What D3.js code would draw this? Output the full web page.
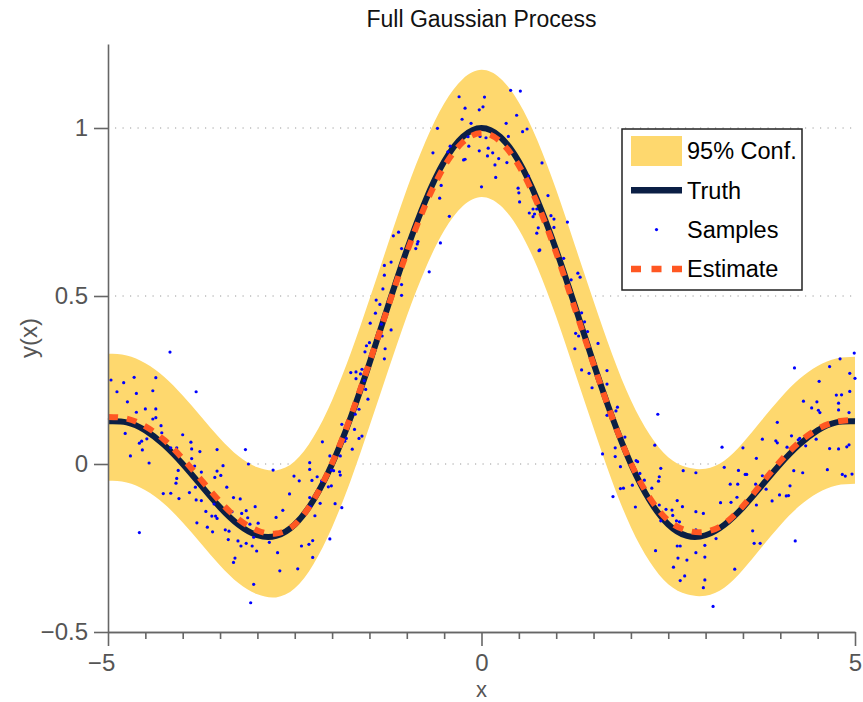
<!DOCTYPE html>
<html>
<head>
<meta charset="utf-8">
<script src="https://cdn.jsdelivr.net/npm/d3@7"></script>
<style>
  body { margin: 0; background: #fff; }
  svg { display: block; }
  text { font-family: "Liberation Sans", Arial, Helvetica, sans-serif; }
</style>
</head>
<body>
<svg id="chart" width="863" height="702"></svg>
<script>
// Evaluation grid for the curves
const xGrid = [-5, -4.75, -4.5, -4.25, -4, -3.75, -3.5, -3.25, -3, -2.75, -2.5, -2.25, -2, -1.75, -1.5, -1.25, -1, -0.75, -0.5, -0.25,
  0, 0.25, 0.5, 0.75, 1, 1.25, 1.5, 1.75, 2, 2.25, 2.5, 2.75, 3, 3.25, 3.5, 3.75, 4, 4.25, 4.5, 4.75, 5];

// True function
const truth = [0.127, 0.124, 0.100, 0.057, 0.000, -0.065, -0.129, -0.181, -0.212, -0.214, -0.180, -0.108, 0.000, 0.139, 0.300, 0.471, 0.637, 0.784, 0.900, 0.974,
  1.000, 0.974, 0.900, 0.784, 0.637, 0.471, 0.300, 0.139, 0.000, -0.108, -0.180, -0.214, -0.212, -0.181, -0.129, -0.065, 0.000, 0.057, 0.100, 0.124, 0.127];

// GP posterior mean
const estimate = [0.140, 0.135, 0.112, 0.072, 0.016, -0.048, -0.112, -0.165, -0.198, -0.207, -0.180, -0.108, 0.002, 0.142, 0.302, 0.468, 0.630, 0.772, 0.885, 0.958,
  0.985, 0.960, 0.888, 0.774, 0.628, 0.463, 0.297, 0.138, 0.002, -0.100, -0.168, -0.198, -0.202, -0.178, -0.125, -0.058, 0.008, 0.064, 0.104, 0.126, 0.131];

// 95% confidence band
const upper = [0.328, 0.323, 0.300, 0.260, 0.204, 0.140, 0.076, 0.023, -0.010, -0.019, 0.008, 0.080, 0.190, 0.330, 0.490, 0.656, 0.818, 0.960, 1.073, 1.146,
  1.173, 1.148, 1.076, 0.962, 0.816, 0.651, 0.485, 0.326, 0.190, 0.088, 0.020, -0.010, -0.014, 0.010, 0.063, 0.130, 0.196, 0.252, 0.292, 0.314, 0.319];
const lower = [-0.050, -0.055, -0.078, -0.118, -0.174, -0.238, -0.302, -0.355, -0.388, -0.397, -0.370, -0.298, -0.188, -0.048, 0.112, 0.278, 0.440, 0.582, 0.695, 0.768,
  0.795, 0.770, 0.698, 0.584, 0.438, 0.273, 0.107, -0.052, -0.188, -0.290, -0.358, -0.388, -0.392, -0.368, -0.315, -0.248, -0.182, -0.126, -0.086, -0.064, -0.059];

// Noisy observations [x, y]
const samples = [
  [-4.17,0.333],[-4.96,0.25],[-4.79,0.242],[-4.65,0.258],[-4.36,0.257],[-4.88,0.215],[-4.62,0.21],[-4.40,0.218],[-3.82,0.215],[-4.74,0.185],
  [-4.50,0.164],[-4.36,0.164],[-4.62,0.154],[-4.40,0.134],[-4.36,0.138],[-4.29,0.114],[-4.28,0.093],[-4.77,0.091],[-4.00,0.087],[-4.48,0.075],
  [-4.55,0.068],[-4.58,0.062],[-4.16,0.048],[-4.08,0.048],[-3.89,0.065],[-3.88,0.045],[-4.54,0.042],[-3.77,0.037],[-3.54,0.043],[-3.16,0.043],
  [-4.70,0.024],[-4.45,0.003],[-3.88,0.016],[-3.84,-0.006],[-3.46,-0.005],[-3.54,-0.021],[-4.06,-0.019],[-3.75,-0.024],[-3.49,-0.034],[-3.57,-0.040],
  [-4.08,-0.043],[-4.09,-0.057],[-3.83,-0.069],[-3.41,-0.069],[-3.91,-0.085],[-4.26,-0.088],[-4.16,-0.087],[-4.05,-0.103],[-3.82,-0.107],[-3.75,-0.109],
  [-3.32,-0.100],[-3.23,-0.104],[-3.58,-0.119],[-3.69,-0.141],[-3.61,-0.155],[-3.56,-0.155],[-3.54,-0.162],[-3.34,-0.142],[-3.21,-0.147],[-3.15,-0.139],
  [-3.03,-0.127],[-3.13,-0.160],[-3.81,-0.175],[-3.67,-0.188],[-3.10,-0.179],[-2.99,-0.176],[-3.60,-0.202],[-3.43,-0.196],[-3.38,-0.200],[-3.05,-0.218],
  [-3.39,-0.225],[-3.26,-0.229],[-3.15,-0.236],[-3.22,-0.244],[-3.07,-0.244],[-3.01,-0.259],[-3.30,-0.280],[-3.32,-0.293],[-4.58,-0.204],[-3.05,-0.358],
  [-3.09,-0.413],[-2.79,-0.018],[-3.12,0.0],[-2.57,-0.089],[-2.51,-0.036],[-2.44,-0.050],[-2.30,0.004],[-2.30,-0.016],[-2.27,-0.049],[-2.20,-0.038],
  [-2.14,-0.050],[-2.13,0.066],[-2.03,0.024],[-2.01,-0.018],[-1.98,-0.020],[-1.90,-0.023],[-1.89,-0.033],[-2.01,-0.065],[-2.05,-0.068],[-2.30,-0.100],
  [-2.29,-0.127],[-2.16,-0.117],[-2.23,-0.154],[-2.34,-0.142],[-1.96,-0.118],[-1.87,-0.130],[-2.75,-0.159],[-2.66,-0.138],[-2.03,-0.223],[-2.41,-0.244],
  [-2.31,-0.239],[-2.26,-0.228],[-2.73,-0.264],[-2.26,-0.278],[-2.46,-0.312],[-2.70,-0.318],[-2.84,-0.233],[-1.87,0.118],[-1.81,0.076],[-1.64,0.076],
  [-1.73,0.044],[-1.70,0.103],[-1.75,0.272],[-1.68,0.274],[-1.68,0.254],[-1.64,0.163],
  [-0.30,1.093],[0.04,1.092],[0.39,1.112],[0.52,1.110],[-0.22,1.059],[-0.03,1.054],[0.02,1.063],[-0.26,1.026],[-0.14,1.014],[0.47,1.038],
  [0.33,1.014],[-0.59,0.999],[0.55,0.989],[0.61,0.997],[0.36,0.975],[-0.02,0.975],[0.06,0.971],[-0.18,0.974],[-0.65,0.926],[-0.42,0.946],
  [-0.45,0.929],[-0.17,0.946],[-0.03,0.932],[0.09,0.940],[0.15,0.926],[0.08,0.917],[0.23,0.909],[0.18,0.890],[0.34,0.897],[-0.24,0.905],
  [-0.22,0.907],[0.81,0.896],[0.19,0.853],[0.00,0.825],[-0.54,0.829],[-0.56,0.791],[0.49,0.821],[0.50,0.807],[0.51,0.780],[0.63,0.857],
  [0.89,0.799],[-0.43,0.737],[0.64,0.747],[0.69,0.759],[0.74,0.759],[0.69,0.736],[0.71,0.744],[0.93,0.739],[0.97,0.729],[1.15,0.720],
  [0.97,0.704],[0.76,0.703],[0.74,0.687],[-1.18,0.679],[-1.11,0.690],[-0.85,0.662],[-0.86,0.655],[-0.88,0.641],[-1.07,0.641],[-0.55,0.658],
  [0.78,0.637],[0.77,0.635],[-1.21,0.601],[-1.30,0.591],[-1.30,0.562],[-0.70,0.572],[1.10,0.612],[-1.32,0.521],[-1.07,0.534],[-1.07,0.502],
  [1.29,0.568],[1.32,0.556],[1.20,0.548],[-1.41,0.488],[-1.36,0.475],[-1.42,0.449],[-1.49,0.419],[-1.34,0.416],[-1.21,0.399],[1.34,0.450],
  [1.38,0.423],[1.42,0.394],[1.26,0.389],[1.30,0.381],[1.25,0.343],[1.56,0.359],[-1.54,0.352],[-1.56,0.334],[-1.50,0.361],[-1.33,0.381],
  [-1.29,0.343],[-1.30,0.313],
  [-1.62,0.268],[-1.60,0.282],[-1.57,0.248],[-1.55,0.222],[-1.52,0.193],[-1.69,0.148],[-1.83,0.068],[-1.60,0.083],[-1.89,0.024],[1.34,0.280],
  [1.44,0.270],[1.48,0.227],
  [1.68,0.278],[1.68,0.238],[1.68,0.145],[1.82,0.169],[1.80,0.158],[1.92,0.080],[1.79,0.048],[1.79,0.022],[1.62,0.030],[1.86,-0.008],
  [1.76,-0.097],[1.86,-0.073],[1.90,-0.072],[2.02,-0.063],[2.06,-0.128],[2.07,0.010],[2.09,0.007],[2.12,-0.028],[2.18,-0.048],[2.28,-0.072],
  [2.32,0.056],[2.36,0.148],[2.40,-0.013],[2.38,-0.038],[2.37,-0.051],[2.38,-0.122],[2.40,-0.169],[2.47,-0.135],[2.55,-0.137],[2.56,-0.153],
  [2.62,-0.109],[2.69,-0.127],[2.61,-0.169],[2.65,-0.172],[2.70,-0.020],[2.87,-0.026],[2.87,-0.142],[2.97,-0.147],[2.87,-0.196],[2.62,-0.244],
  [2.66,-0.244],[2.99,-0.242],[2.33,-0.258],[2.63,-0.280],[2.75,-0.286],[2.87,-0.264],[2.99,-0.277],[2.57,-0.307],[2.72,-0.333],[2.66,-0.347],
  [2.99,-0.345],[2.97,-0.368],[3.10,-0.424],[3.14,-0.222],[3.39,-0.313],[3.22,0.050],[3.25,-0.010],[3.20,-0.115],[3.34,-0.114],[3.33,-0.060],
  [3.43,-0.060],[3.44,-0.019],[3.42,-0.099],[3.53,-0.031],[3.55,-0.031],[3.50,0.048],[3.63,-0.199],[3.65,-0.236],[3.73,-0.236],[3.68,0.017],
  [3.67,-0.060],[3.68,-0.122],[3.76,-0.035],[3.81,-0.075],[3.89,-0.110],[3.76,0.074],[3.94,0.069],[3.96,0.063],[3.96,0.124],[3.99,-0.092],
  [4.09,0.050],[4.08,-0.095],[4.11,-0.094],[4.13,-0.065],[4.15,0.084],[4.18,-0.020],[4.20,-0.229],[4.19,0.286],[4.24,0.072],[4.26,0.076],
  [4.30,-0.026],[4.31,0.187],[4.34,0.054],[4.42,0.167],[4.49,0.185],[4.48,0.074],[4.51,0.160],[4.53,0.153],[4.52,0.246],[4.63,-0.017],
  [4.66,0.290],[4.66,0.046],[4.78,0.045],[4.75,0.205],[4.78,0.181],[4.78,0.161],[4.82,0.206],[4.80,0.313],[4.93,0.270],[4.93,0.216],
  [4.92,0.153],[4.83,-0.031],[4.87,-0.036],[4.89,0.051],[4.92,0.057],[4.96,-0.030],[4.99,0.330],[5.00,0.255]
];

// Axis ticks and grid
const xMajorTicks = [-5, 0, 5];
const xMinorTicks = [-4.5, -4, -3.5, -3, -2.5, -2, -1.5, -1, -0.5, 0.5, 1, 1.5, 2, 2.5, 3, 3.5, 4, 4.5];
const yTicks = [-0.5, 0, 0.5, 1];
const gridLevels = [0, 0.5, 1];
const legendLabels = ["95% Conf.", "Truth", "Samples", "Estimate"];

const colors = {
  band: "#fed86e",
  truth: "#0b1f45",
  samples: "#0000ff",
  estimate: "#ff5722",
  axis: "#666666",
  label: "#555555"
};

const svg = d3.select("#chart");
const W = 863, H = 702;
const margin = { left: 108, right: 8, top: 44, bottom: 70 };

const x = d3.scaleLinear().domain([-5, 5]).range([margin.left, W - margin.right]);
const y = d3.scaleLinear().domain([-0.5, 1.25]).range([H - margin.bottom, margin.top]);

// Dotted horizontal grid
svg.append("g").selectAll("line").data(gridLevels).join("line")
  .attr("x1", x(-5)).attr("x2", x(5))
  .attr("y1", d => y(d)).attr("y2", d => y(d))
  .attr("stroke", "#999999").attr("stroke-width", 1)
  .attr("stroke-dasharray", "1.2,6.3").attr("stroke-dashoffset", -7);

const idx = d3.range(xGrid.length);

// Confidence band
svg.append("path")
  .attr("d", d3.area().curve(d3.curveNatural)
    .x(i => x(xGrid[i])).y0(i => y(lower[i])).y1(i => y(upper[i]))(idx))
  .attr("fill", colors.band);

// True function
svg.append("path")
  .attr("d", d3.line().curve(d3.curveNatural).x(i => x(xGrid[i])).y(i => y(truth[i]))(idx))
  .attr("fill", "none").attr("stroke", colors.truth).attr("stroke-width", 6);

// Observations
svg.append("g").selectAll("circle").data(samples).join("circle")
  .attr("cx", d => x(d[0])).attr("cy", d => y(d[1])).attr("r", 1.6)
  .attr("fill", colors.samples);

// Posterior mean
svg.append("path")
  .attr("d", d3.line().curve(d3.curveNatural).x(i => x(xGrid[i])).y(i => y(estimate[i]))(idx))
  .attr("fill", "none").attr("stroke", colors.estimate).attr("stroke-width", 6)
  .attr("stroke-dasharray", "10,9");

// Axes
const fmt = d3.format("~g");
function styleAxis(g) {
  g.selectAll(".domain").attr("stroke", colors.axis).attr("stroke-width", 1.6);
  g.selectAll(".tick line").attr("stroke", colors.axis).attr("stroke-width", 1.6);
  g.selectAll(".tick text").attr("fill", colors.label).attr("font-size", 24)
    .attr("font-family", "'Liberation Sans', Arial, Helvetica, sans-serif");
}

const xMinor = svg.append("g").attr("transform", `translate(0,${y(-0.5)})`)
  .call(d3.axisBottom(x).tickValues(xMinorTicks).tickSize(7).tickSizeOuter(0).tickFormat(""));
styleAxis(xMinor);

const xMajor = svg.append("g").attr("transform", `translate(0,${y(-0.5)})`)
  .call(d3.axisBottom(x).tickValues(xMajorTicks).tickSize(14).tickSizeOuter(0).tickPadding(8).tickFormat(fmt));
styleAxis(xMajor);
// keep the digit centred under the tick for negative labels
xMajor.selectAll(".tick text").attr("dx", d => d < 0 ? "-0.29em" : 0);

const yAxis = svg.append("g").attr("transform", `translate(${x(-5)},0)`)
  .call(d3.axisLeft(y).tickValues(yTicks).tickSize(14).tickSizeOuter(0).tickPadding(6).tickFormat(fmt));
styleAxis(yAxis);

// Axis labels and title
svg.append("text").attr("x", (x(-5) + x(5)) / 2).attr("y", 697)
  .attr("text-anchor", "middle").attr("font-size", 22).attr("fill", colors.label).text("x");

svg.append("text").attr("transform", `translate(37,${y(0.375)}) rotate(-90)`)
  .attr("text-anchor", "middle").attr("font-size", 24).attr("fill", colors.label).text("y(x)");

svg.append("text").attr("x", (x(-5) + x(5)) / 2).attr("y", 27)
  .attr("text-anchor", "middle").attr("font-size", 23).attr("fill", "#111").text("Full Gaussian Process");

// Legend
const lg = svg.append("g").attr("transform", "translate(622,129)");
lg.append("rect").attr("width", 180).attr("height", 161)
  .attr("fill", "#fff").attr("stroke", "#222").attr("stroke-width", 1.5);
const rowY = i => 22 + i * 39.3;
lg.append("rect").attr("x", 9).attr("y", rowY(0) - 15).attr("width", 51).attr("height", 30).attr("fill", colors.band);
lg.append("line").attr("x1", 9).attr("x2", 60).attr("y1", rowY(1)).attr("y2", rowY(1))
  .attr("stroke", colors.truth).attr("stroke-width", 6.5);
lg.append("circle").attr("cx", 34.5).attr("cy", rowY(2)).attr("r", 1.6).attr("fill", colors.samples);
lg.append("line").attr("x1", 9).attr("x2", 60).attr("y1", rowY(3)).attr("y2", rowY(3))
  .attr("stroke", colors.estimate).attr("stroke-width", 6.5).attr("stroke-dasharray", "10,10.5");
lg.selectAll("text.lbl").data(legendLabels).join("text").attr("class", "lbl")
  .attr("x", 65).attr("y", (d, i) => rowY(i)).attr("dy", "0.36em")
  .attr("font-size", 23.5).attr("fill", "#000").text(d => d);
</script>
</body>
</html>
